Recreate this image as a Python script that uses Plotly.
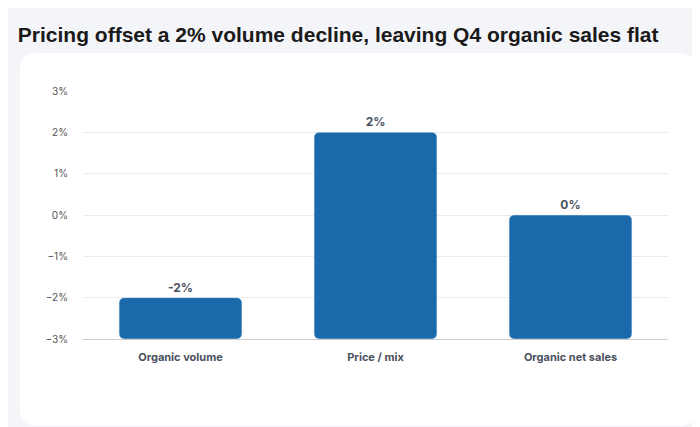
import plotly.graph_objects as go

categories = ["Organic volume", "Price / mix", "Organic net sales"]
values = [-2, 2, 0]
tick_vals = [3, 2, 1, 0, -1, -2, -3]
tick_text = ["3%", "2%", "1%", "0%", "\u22121%", "\u22122%", "\u22123%"]

base = -3
fig = go.Figure()
fig.add_trace(go.Bar(
    x=categories,
    y=[v - base for v in values],
    base=base,
    marker_color="#1a6aab",
    width=0.63,
    text=[f"<b>{v}%</b>" for v in values],
    textposition="outside",
    textfont=dict(size=12, color="#4a5160", family="Inter"),
    cliponaxis=False,
    hoverinfo="skip",
))

# white card behind the chart, rounded corners
x0, x1, y0, y1, r = -0.108, 1.048, -0.351, 1.153, 0.03
ry = r * 585 / 248
card = (f"M {x0+r},{y0} L {x1-r},{y0} Q {x1},{y0} {x1},{y0+ry} L {x1},{y1-ry} Q {x1},{y1} {x1-r},{y1} "
        f"L {x0+r},{y1} Q {x0},{y1} {x0},{y1-ry} L {x0},{y0+ry} Q {x0},{y0} {x0+r},{y0} Z")
fig.add_shape(type="path", path=card, xref="paper", yref="paper",
              fillcolor="white", line_width=0, layer="below")

fig.update_layout(
    width=700, height=427,
    margin=dict(l=75, r=40, t=83, b=96, autoexpand=False),
    paper_bgcolor="#f4f5f8",
    plot_bgcolor="white",
    barcornerradius=5,
    showlegend=False,
    title=dict(text="<b>Pricing offset a 2% volume decline, leaving Q4 organic sales flat</b>",
               x=0.014, xanchor="left", y=0.955, font=dict(size=21, color="#1a1a1a", family="Liberation Sans")),
    font=dict(family="Inter", color="#555"),
    xaxis=dict(tickfont=dict(size=11, color="#4a5160"), showline=True, linecolor="#cccccc", ticks="",
               ticklabelstandoff=8, automargin=False,
               tickvals=categories, ticktext=[f"<b>{c}</b>" for c in categories]),
    yaxis=dict(range=[-3, 3], tickvals=tick_vals, ticktext=tick_text, tickfont=dict(size=10, color="#555"),
               gridcolor="#ececec", zeroline=False, ticklabelstandoff=14, automargin=False),
)

fig.write_html("out.html")
